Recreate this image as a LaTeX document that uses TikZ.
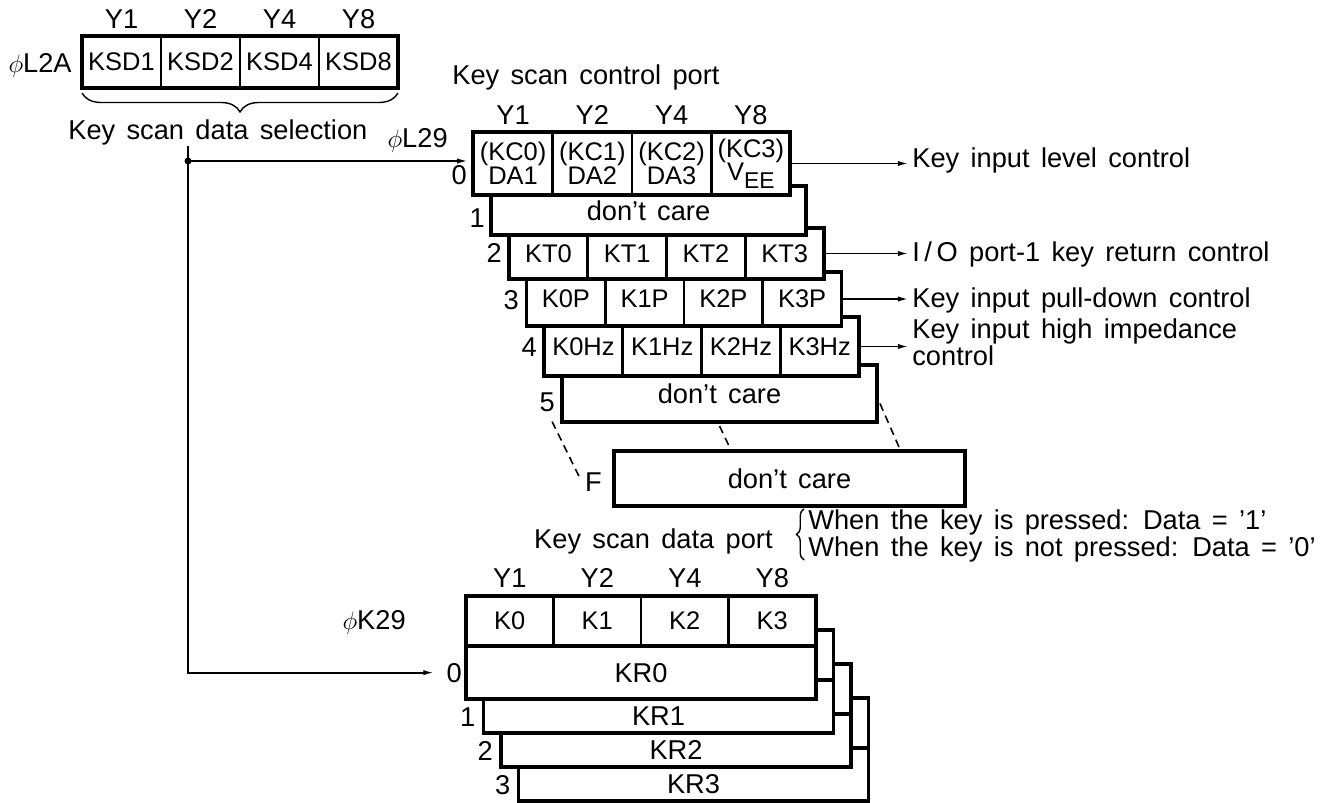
\documentclass[tikz,border=0pt]{standalone}
\usepackage{fontspec}
\setmainfont[WordSpace=1.5]{Liberation Sans}
\usetikzlibrary{arrows.meta,positioning,calc,decorations.pathreplacing}
\newcommand\VEEsub{V\raisebox{-0.3em}{\fontsize{13}{13}\selectfont EE}}

\begin{document}
\begin{tikzpicture}[
    x=0.02cm, y=-0.02cm,
    font=\fontsize{15.5}{14}\selectfont,
    sheet/.style={draw, line width=2.2pt, fill=white, inner sep=0pt, outer sep=0pt},
    cell/.style={draw, line width=1.5pt, inner sep=0pt, outer sep=0pt, align=center,
      font=\fontsize{14.5}{13.5}\selectfont},
    rule/.style={line width=2.2pt},
    tag/.style={inner sep=0pt},
    wire/.style={line width=1pt},
    arrow/.style={-{Latex[length=6pt, width=3pt]}, line width=1pt},
    guide/.style={line width=0.9pt, dash pattern=on 4.5pt off 3pt}
  ]
  \useasboundingbox (0,0) rectangle (1334,803);

  % Key scan data selection register
  \node[sheet, minimum width=6.32cm, minimum height=1.04cm] (l2a) at (240,62) {};
  \foreach \bit [count=\i from 0] in {1,2,4,8} {
    \node[cell, minimum width=1.58cm, minimum height=1.04cm] (ksd\bit) at (121.5+79*\i,62) {KSD\bit};
    \node[tag, above=0.14cm of ksd\bit] {Y\bit};
  }
  \node[tag, anchor=base east] (pl2a) at (72,73) {$\phi$L2A};
  \draw[decorate, decoration={brace, mirror, amplitude=0.38cm}, line width=0.8pt]
    ($(l2a.south west)+(0,5)$) -- ($(l2a.south east)+(0,5)$);
  \node[tag, anchor=base west] (sel) at (68,140) {Key scan data selection};
  \coordinate (split) at (188,161);
  \draw[wire] (sel.south -| split) -- (split);
  \fill (split) circle[radius=0.07cm];
  \node[tag, anchor=base east] (pl29) at (448,148) {$\phi$L29};

  % Key scan control port (rows drawn back to front)
  \node[tag, anchor=base west] (cport) at (452,85) {Key scan control port};

  \node[sheet, minimum width=7.02cm, minimum height=1.1cm] (rf) at (789.5,478.5) {don't care};
  \node[tag, anchor=base east] (nf) at (602,491) {F};

  \node[sheet, minimum width=6.3cm, minimum height=1.14cm] (r5) at (719.5,393.5) {don't care};
  \node[tag, anchor=base east] (n5) at (555,412) {5};

  \node[sheet, minimum width=6.3cm, minimum height=1.18cm] (r4) at (701.5,346.5) {};
  \foreach \bit [count=\i from 0] in {0,1,2,3}
    \node[cell, minimum width=1.575cm, minimum height=1.18cm] (khz\bit) at (583.4+78.75*\i,346.5) {K\bit Hz};
  \node[tag, anchor=base east] (n4) at (537,357) {4};

  \node[sheet, minimum width=6.3cm, minimum height=1.08cm] (r3) at (684,299) {};
  \foreach \bit [count=\i from 0] in {0,1,2,3}
    \node[cell, minimum width=1.575cm, minimum height=1.08cm] (kp\bit) at (565.9+78.75*\i,299) {K\bit P};
  \node[tag, anchor=base east] (n3) at (519,310) {3};

  \node[sheet, minimum width=6.3cm, minimum height=1.02cm] (r2) at (666.5,253.5) {};
  \foreach \bit [count=\i from 0] in {0,1,2,3}
    \node[cell, minimum width=1.575cm, minimum height=1.02cm] (kt\bit) at (548.4+78.75*\i,253.5) {KT\bit};
  \node[tag, anchor=base east] (n2) at (502,263) {2};

  \node[sheet, minimum width=6.3cm, minimum height=0.98cm] (r1) at (648.5,210.5) {don't care};
  \node[tag, anchor=base east] (n1) at (485,228) {1};

  \node[sheet, minimum width=6.34cm, minimum height=1.26cm] (r0) at (631.5,163.5) {};
  \foreach \low/\bit [count=\i from 0] in {DA1/1,DA2/2,DA3/4,\VEEsub/8} {
    \node[cell, minimum width=1.585cm, minimum height=1.26cm] (kc\i) at (513.1+79.25*\i,163.5) {(KC\i)\\\low};
    \node[tag, above=0.14cm of kc\i] {Y\bit};
  }
  \node[tag, anchor=base east] (n0) at (467,185) {0};

  \draw[guide] ($(n5.south)+(5,9)$) -- ($(nf.west)+(-5,-4)$);
  \draw[guide] ($(r5.south)+(0,4)$) -- ($(rf.north)+(-60,-4)$);
  \draw[guide] ($(r5.east)+(3,10)$) -- ($(rf.north east)+(-66,-4)$);

  % Control outputs
  \node[tag, anchor=base west] (lvl) at (912,168) {Key input level control};
  \node[tag, anchor=base west] (ret) at (912,262) {I\,/\,O port-1 key return control};
  \node[tag, anchor=base west] (pull) at (912,308) {Key input pull-down control};
  \node[tag, anchor=north west, align=left] (imp) at (912,318) {Key input high impedance\\control};
  \foreach \row/\txt in {r0/lvl, r2/ret, r3/pull, r4/imp}
    \draw[arrow, shorten >=2pt] (\row.east) -- (\row.east -| \txt.west);

  % Key scan data port (sheets drawn back to front)
  \node[tag, anchor=base east] (dport) at (773,548) {Key scan data port};
  \node[tag, anchor=base west] (press) at (808,529) {When the key is pressed: Data = '1'};
  \node[tag, anchor=base west] (nopress) at (808,556) {When the key is not pressed: Data = '0'};
  \draw[decorate, decoration={brace, amplitude=0.15cm}, line width=0.8pt]
    ($(nopress.south west)+(-4,-2)$) -- ($(press.north west)+(-4,0)$);

  \foreach \k in {3,2,1} {
    \node[sheet, minimum width=7cm, minimum height=2.06cm] (s\k) at (641+17.5*\k,647.5+34*\k) {};
    \draw[rule] ($(s\k.north west)+(0,50)$) -- ($(s\k.north east)+(0,50)$);
    \node[tag] (kr\k) at ($(s\k.center)+(0,34.5)$) {KR\k};
    \node[tag, anchor=base east] (kn\k) at ($(s\k.west)+(-8,44.5)$) {\k};
  }
  \node[sheet, minimum width=7cm, minimum height=2.06cm] (s0) at (641,647.5) {};
  \foreach \bit [count=\i from 0] in {1,2,4,8} {
    \node[cell, minimum width=1.75cm, minimum height=1cm] (k\i) at (509.75+87.5*\i,621) {K\i};
    \node[tag, above=0.16cm of k\i] {Y\bit};
  }
  \draw[rule] ($(s0.north west)+(0,50)$) -- ($(s0.north east)+(0,50)$);
  \node[tag] (kr0) at (641,673) {KR0};
  \node[tag, anchor=base east] (kn0) at (462,682) {0};
  \node[tag, anchor=base east] (pk29) at (406,629) {$\phi$K29};

  % Connectors from the selection
  \draw[arrow, shorten >=3pt] (split) -- (split -| r0.west);
  \draw[arrow, shorten >=7pt] (split) |- (kn0.west);
\end{tikzpicture}
\end{document}
